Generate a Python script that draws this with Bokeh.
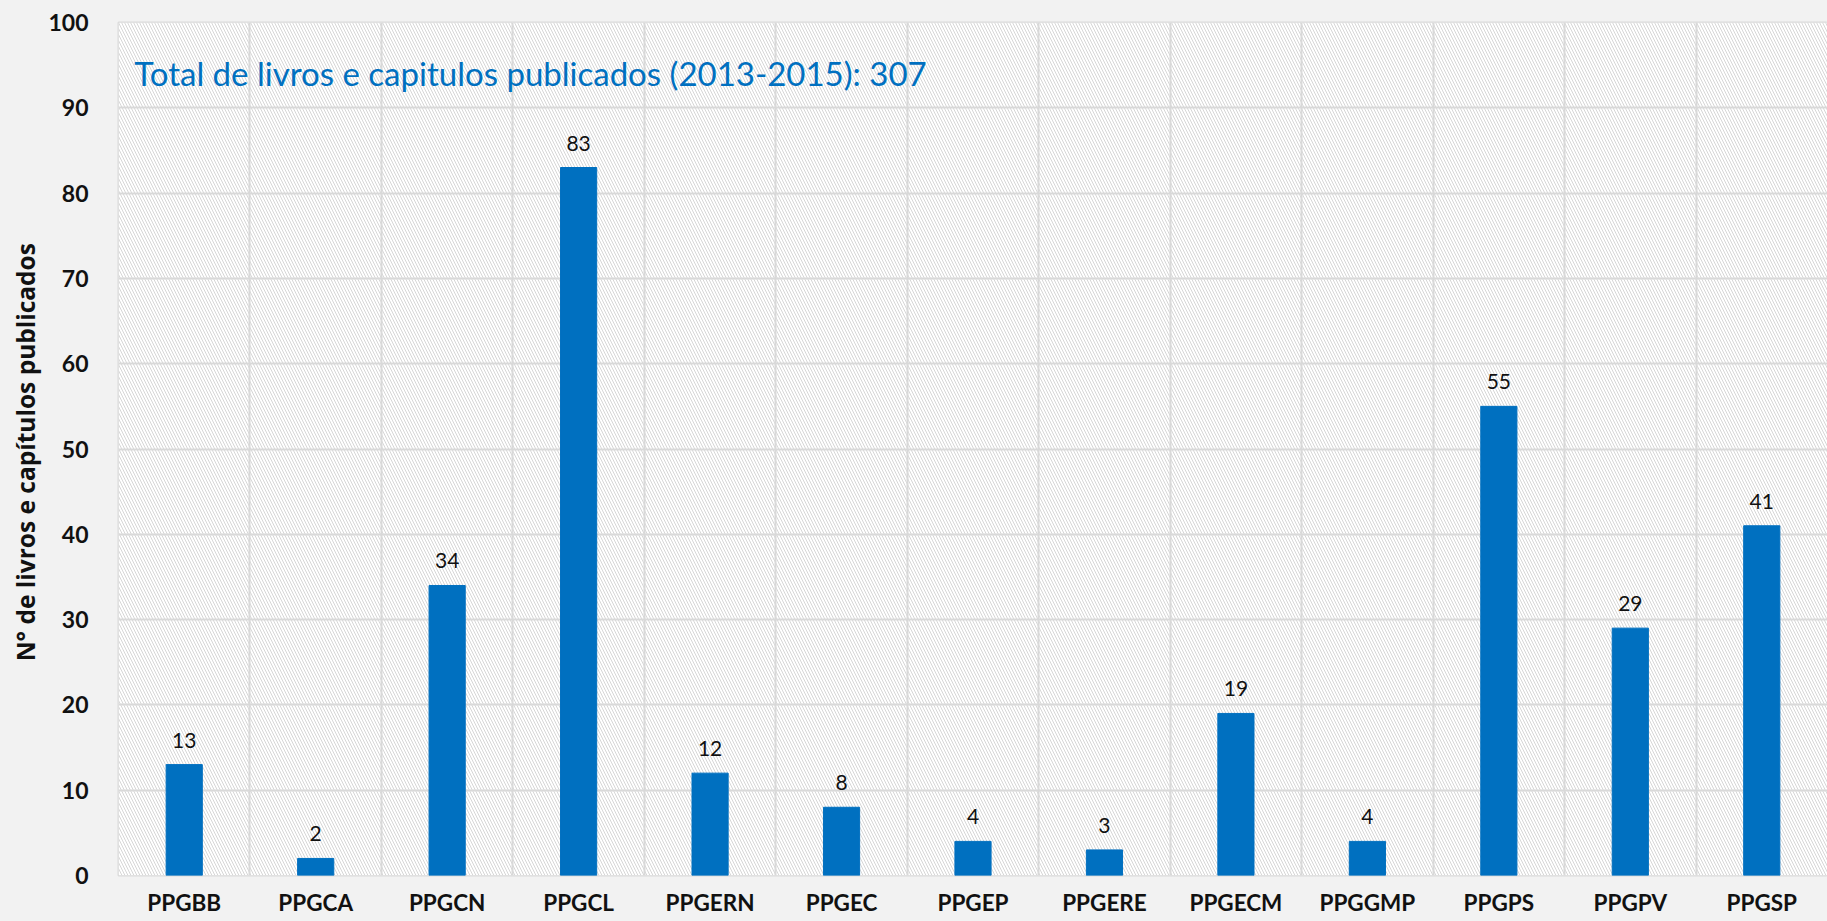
from bokeh.plotting import figure
from bokeh.models import Range1d, FixedTicker, BoxAnnotation, Label, ColumnDataSource
from bokeh.core.properties import value
from bokeh.embed import file_html
from bokeh.resources import INLINE

categories = ["PPGBB", "PPGCA", "PPGCN", "PPGCL", "PPGERN", "PPGEC", "PPGEP",
              "PPGERE", "PPGECM", "PPGGMP", "PPGPS", "PPGPV", "PPGSP"]
counts = [13, 2, 34, 83, 12, 8, 4, 3, 19, 4, 55, 29, 41]
y_ticks = [0, 10, 20, 30, 40, 50, 60, 70, 80, 90, 100]
title_text = "Total de livros e capitulos publicados (2013-2015): 307"
y_label = "N° de  livros e capítulos publicados"

FONT = "Lato"
BLUE = "#0070C0"
GRID = "#d9d9d9"

centers = [i + 0.5 for i in range(len(categories))]
bounds = list(range(len(categories) + 1))

src = ColumnDataSource(dict(x=centers, top=counts, lab=[str(c) for c in counts]))

p = figure(width=1827, height=921, output_backend="svg", toolbar_location=None,
           x_range=Range1d(0, len(categories)), y_range=Range1d(0, 100),
           min_border_left=118, min_border_top=22, min_border_bottom=46,
           min_border_right=0)
p.border_fill_color = "#f2f2f2"
p.background_fill_color = "white"
p.outline_line_color = GRID
p.outline_line_width = 2

hatch = BoxAnnotation(fill_color="white", fill_alpha=1.0, line_color=None,
                      hatch_pattern="left_diagonal_line", hatch_color="#d6d6d6",
                      hatch_weight=1, hatch_scale=6, level="image")
p.add_layout(hatch)

p.vbar(x="x", top="top", width=0.275, bottom=0, source=src, color=BLUE)
p.text(x="x", y="top", text="lab", source=src, text_align="center",
       text_baseline="bottom", y_offset=-17, text_font=value(FONT),
       text_font_size="21px", text_color="#111111")

p.add_layout(Label(x=0.12, y=94.1, text=title_text, text_baseline="middle",
                   text_font=FONT, text_font_size="33px", text_color=BLUE))

# x axis
p.xaxis.ticker = FixedTicker(ticks=centers)
p.xaxis.major_label_overrides = {c: n for c, n in zip(centers, categories)}
p.xaxis.major_label_text_font = FONT
p.xaxis.major_label_text_font_style = "bold"
p.xaxis.major_label_text_font_size = "22.5px"
p.xaxis.major_label_text_color = "#111111"
p.xaxis.major_label_standoff = 7
p.xaxis.axis_line_color = None
p.xaxis.major_tick_line_color = None
p.xaxis.minor_tick_line_color = None
p.xgrid.ticker = FixedTicker(ticks=bounds)
p.xgrid.grid_line_color = GRID
p.xgrid.grid_line_width = 2

# y axis
p.yaxis.ticker = FixedTicker(ticks=y_ticks)
p.yaxis.major_label_text_font = FONT
p.yaxis.major_label_text_font_style = "bold"
p.yaxis.major_label_text_font_size = "23px"
p.yaxis.major_label_text_color = "#111111"
p.yaxis.major_label_standoff = 24
p.yaxis.axis_line_color = None
p.yaxis.major_tick_line_color = None
p.yaxis.minor_tick_line_color = None
p.yaxis.axis_label = y_label
p.yaxis.axis_label_text_font = "Open Sans"
p.yaxis.axis_label_text_font_style = "bold"
p.yaxis.axis_label_text_font_size = "24.5px"
p.yaxis.axis_label_text_color = "#111111"
p.yaxis.axis_label_standoff = 3
p.ygrid.grid_line_color = GRID
p.ygrid.grid_line_width = 2

html = file_html(p, INLINE)
html = html.replace("</head>", "<style>body{background:#f2f2f2;}</style></head>", 1)
open("out.html", "w").write(html)
